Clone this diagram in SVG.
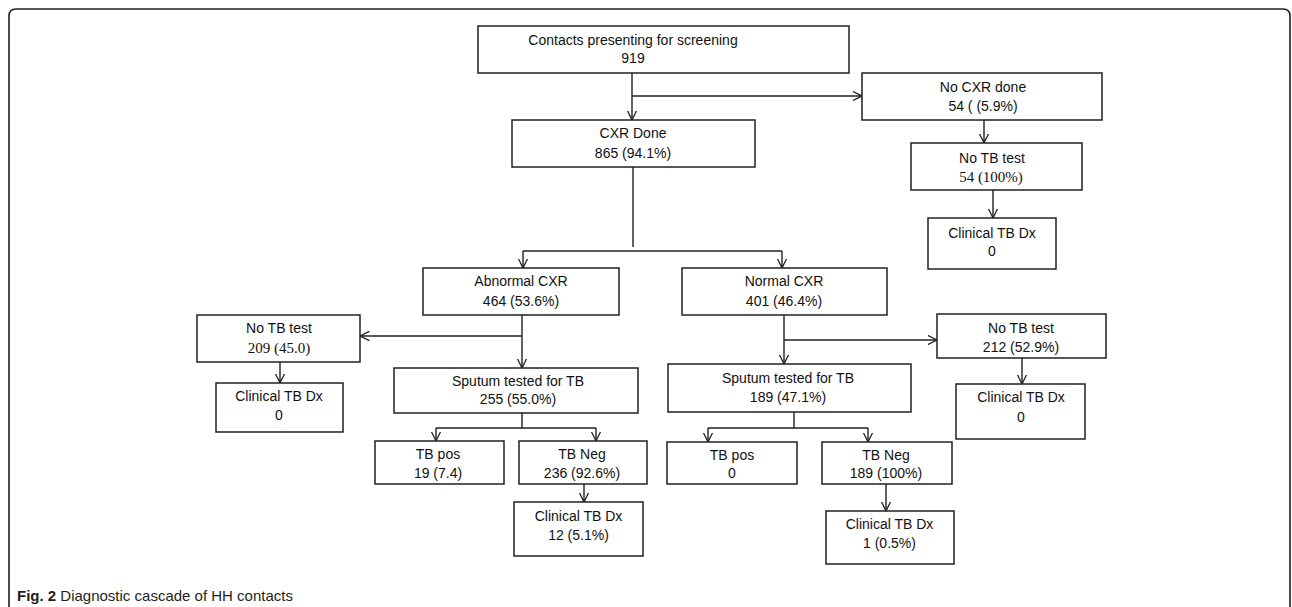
<svg xmlns="http://www.w3.org/2000/svg" width="1292" height="607" viewBox="0 0 1292 607">
<style>
.box{fill:#fff;stroke:#231f20;stroke-width:1.5}
.t{font-family:"Liberation Sans",Arial,sans-serif;font-size:14px;fill:#111;text-anchor:middle}
.s{font-family:"Liberation Serif","Times New Roman",serif;font-size:15px;fill:#111;text-anchor:middle}
.c line{stroke:#231f20;stroke-width:1.4;fill:none}
.cap{font-family:"Liberation Sans",Arial,sans-serif;font-size:15px;fill:#231f20}
</style>
<defs>
<marker id="ah" viewBox="0 0 10 10" markerWidth="10" markerHeight="10" refX="9.5" refY="5" orient="auto" markerUnits="userSpaceOnUse">
<path d="M0,0.3 L9.5,5 L0,9.7" fill="none" stroke="#231f20" stroke-width="1.3"/>
</marker>
</defs>
<rect width="1292" height="607" fill="#fff"/>
<path d="M9,607 L9,16 Q9,9 16,9 L1283,9 Q1290,9 1290,16 L1290,607" fill="none" stroke="#231f20" stroke-width="1.6"/>

<g class="c" id="connectors">
<line x1="632" y1="73" x2="632" y2="120" marker-end="url(#ah)"/>
<line x1="632" y1="96" x2="862" y2="96" marker-end="url(#ah)"/>
<line x1="984" y1="120" x2="984" y2="143" marker-end="url(#ah)"/>
<line x1="993" y1="190" x2="993" y2="218" marker-end="url(#ah)"/>
<line x1="633" y1="167" x2="633" y2="247"/>
<line x1="523" y1="251" x2="782" y2="251"/>
<line x1="523" y1="251" x2="523" y2="268" marker-end="url(#ah)"/>
<line x1="782" y1="251" x2="782" y2="268" marker-end="url(#ah)"/>
<line x1="522" y1="315" x2="522" y2="368" marker-end="url(#ah)"/>
<line x1="522" y1="336" x2="360" y2="336" marker-end="url(#ah)"/>
<line x1="280" y1="362" x2="280" y2="383" marker-end="url(#ah)"/>
<line x1="522" y1="413" x2="522" y2="428"/>
<line x1="436" y1="428" x2="596" y2="428"/>
<line x1="436" y1="428" x2="436" y2="441" marker-end="url(#ah)"/>
<line x1="596" y1="428" x2="596" y2="441" marker-end="url(#ah)"/>
<line x1="584" y1="484" x2="584" y2="502" marker-end="url(#ah)"/>
<line x1="784" y1="315" x2="784" y2="364" marker-end="url(#ah)"/>
<line x1="784" y1="340" x2="937" y2="340" marker-end="url(#ah)"/>
<line x1="1022" y1="358" x2="1022" y2="384" marker-end="url(#ah)"/>
<line x1="794" y1="412" x2="794" y2="428"/>
<line x1="708" y1="428" x2="868" y2="428"/>
<line x1="708" y1="428" x2="708" y2="442" marker-end="url(#ah)"/>
<line x1="868" y1="428" x2="868" y2="442" marker-end="url(#ah)"/>
<line x1="886" y1="484" x2="886" y2="511" marker-end="url(#ah)"/>
</g>

<g id="n-contacts"><rect class="box" x="478" y="26" width="371" height="47"/>
<text class="t" x="633" y="45">Contacts presenting for screening</text><text class="t" x="633" y="63">919</text></g>

<g id="n-cxr-done"><rect class="box" x="512" y="120" width="243" height="47"/>
<text class="t" x="633" y="137.5">CXR Done</text><text class="t" x="633" y="158">865 (94.1%)</text></g>

<g id="n-no-cxr"><rect class="box" x="862" y="73" width="240" height="47"/>
<text class="t" x="983" y="92">No CXR done</text><text class="t" x="983" y="111">54 ( (5.9%)</text></g>

<g id="n-no-tb-1"><rect class="box" x="911" y="143" width="171" height="47"/>
<text class="t" x="992" y="163">No TB test</text><text class="s" x="991" y="182">54 (100%)</text></g>

<g id="n-clin-1"><rect class="box" x="928" y="218" width="128" height="51"/>
<text class="t" x="992" y="237.5">Clinical TB Dx</text><text class="t" x="992" y="256">0</text></g>

<g id="n-abnormal"><rect class="box" x="423" y="268" width="196" height="47"/>
<text class="t" x="521" y="286">Abnormal CXR</text><text class="t" x="521" y="306">464 (53.6%)</text></g>

<g id="n-normal"><rect class="box" x="682" y="268" width="205" height="47"/>
<text class="t" x="784" y="286">Normal CXR</text><text class="t" x="784" y="306">401 (46.4%)</text></g>

<g id="n-no-tb-2"><rect class="box" x="197" y="315" width="163" height="47"/>
<text class="t" x="279" y="333">No TB test</text><text class="s" x="279" y="352.5">209 (45.0)</text></g>

<g id="n-clin-2"><rect class="box" x="216" y="383" width="127" height="49"/>
<text class="t" x="279" y="400.5">Clinical TB Dx</text><text class="t" x="279" y="420">0</text></g>

<g id="n-sputum-1"><rect class="box" x="394" y="368" width="244" height="45"/>
<text class="t" x="518" y="385.5">Sputum tested for TB</text><text class="t" x="518" y="404">255 (55.0%)</text></g>

<g id="n-tbpos-1"><rect class="box" x="375" y="441" width="129" height="43"/>
<text class="t" x="438" y="459">TB pos</text><text class="t" x="438" y="478">19 (7.4)</text></g>

<g id="n-tbneg-1"><rect class="box" x="519" y="441" width="128" height="43"/>
<text class="t" x="582" y="459">TB Neg</text><text class="t" x="582" y="478">236 (92.6%)</text></g>

<g id="n-clin-3"><rect class="box" x="514" y="502" width="129" height="54"/>
<text class="t" x="578.5" y="521">Clinical TB Dx</text><text class="t" x="578.5" y="540">12 (5.1%)</text></g>

<g id="n-sputum-2"><rect class="box" x="668" y="364" width="243" height="48"/>
<text class="t" x="788" y="383">Sputum tested for TB</text><text class="t" x="788" y="402">189 (47.1%)</text></g>

<g id="n-no-tb-3"><rect class="box" x="937" y="314" width="169" height="44"/>
<text class="t" x="1021" y="333">No TB test</text><text class="t" x="1021" y="352">212 (52.9%)</text></g>

<g id="n-clin-4"><rect class="box" x="956" y="384" width="129" height="55"/>
<text class="t" x="1021" y="402">Clinical TB Dx</text><text class="t" x="1021" y="422">0</text></g>

<g id="n-tbpos-2"><rect class="box" x="667" y="442" width="130" height="42"/>
<text class="t" x="732" y="460">TB pos</text><text class="t" x="732" y="478">0</text></g>

<g id="n-tbneg-2"><rect class="box" x="822" y="442" width="130" height="42"/>
<text class="t" x="886" y="460">TB Neg</text><text class="t" x="886" y="478">189 (100%)</text></g>

<g id="n-clin-5"><rect class="box" x="826" y="511" width="128" height="53"/>
<text class="t" x="889.5" y="529">Clinical TB Dx</text><text class="t" x="889.5" y="548">1 (0.5%)</text></g>

<text class="cap" x="17" y="601"><tspan font-weight="bold">Fig. 2</tspan> Diagnostic cascade of HH contacts</text>
</svg>
